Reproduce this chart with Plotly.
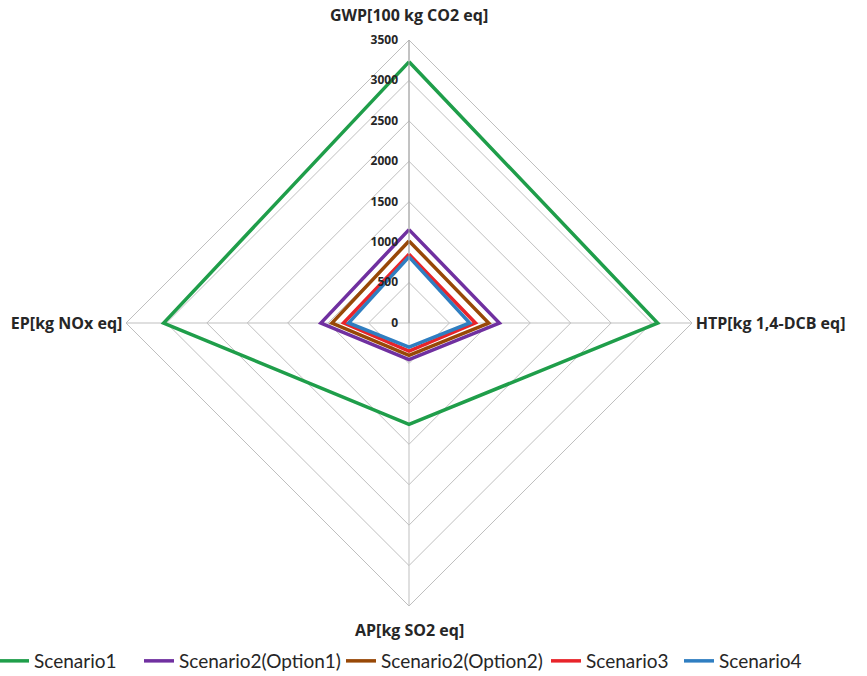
import plotly.graph_objects as go

categories = ["GWP[100 kg CO2 eq]", "HTP[kg 1,4-DCB eq]", "AP[kg SO2 eq]", "EP[kg NOx eq]"]
series_names = ["Scenario1", "Scenario2(Option1)", "Scenario2(Option2)", "Scenario3", "Scenario4"]
scenario1 = [3230, 3075, 1255, 3035]
scenario2_opt1 = [1155, 1118, 454, 1090]
scenario2_opt2 = [1015, 986, 400, 953]
scenario3 = [850, 821, 347, 809]
scenario4 = [817, 751, 297, 747]
radial_ticks = [0, 500, 1000, 1500, 2000, 2500, 3000, 3500]

colors = ["#1f9e4a", "#7030a0", "#984807", "#e8242a", "#2f7ec1"]
all_series = [scenario1, scenario2_opt1, scenario2_opt2, scenario3, scenario4]
legend_starts = [3, 148, 350, 555, 688]

W, H = 867, 676
cx, cy, R = 409, 323, 283

fig = go.Figure()
legend_layouts = {}
for i, (name, vals, col) in enumerate(zip(series_names, all_series, colors)):
    lg = "legend" if i == 0 else "legend%d" % (i + 1)
    fig.add_trace(go.Scatterpolar(
        r=vals + vals[:1],
        theta=categories + categories[:1],
        mode="lines",
        name=name,
        legend=lg,
        line=dict(color=col, width=3.5),
    ))
    legend_layouts[lg] = dict(
        orientation="h", x=(legend_starts[i] - 9) / W, xanchor="left",
        y=(H - 661) / H, yanchor="middle",
        font=dict(family="Lato, Noto Sans, sans-serif", size=19, color="#262626"),
        itemwidth=30, bgcolor="rgba(0,0,0,0)",
    )

# top and bottom category labels are drawn as annotations for exact placement
angular_text = ["", categories[1], "", categories[3]]
radial_text = [str(v) + "\u00a0\u00a0" for v in radial_ticks]
label_font = dict(family="Open Sans, Noto Sans, sans-serif", size=16, weight="bold", color="#262626")

fig.update_layout(
    width=W, height=H,
    margin=dict(l=0, r=0, t=0, b=0, autoexpand=False),
    paper_bgcolor="white",
    plot_bgcolor="white",
    font=dict(family="Open Sans, Noto Sans, sans-serif", color="#262626"),
    polar=dict(
        domain=dict(x=[(cx - R) / W, (cx + R) / W], y=[(H - cy - R) / H, (H - cy + R) / H]),
        bgcolor="white",
        gridshape="linear",
        angularaxis=dict(
            rotation=90, direction="clockwise",
            showline=True, linecolor="#bfbfbf", linewidth=1,
            gridcolor="#bfbfbf", gridwidth=1,
            tickmode="array", tickvals=categories, ticktext=angular_text,
            ticks="", tickfont=label_font,
        ),
        radialaxis=dict(
            range=[0, 3500], tickmode="array", tickvals=radial_ticks, ticktext=radial_text,
            angle=90, tickangle=90, side="counterclockwise",
            showline=True, linecolor="#a6a6a6", linewidth=1,
            gridcolor="#bfbfbf", gridwidth=1,
            ticks="", tickfont=dict(size=12, weight="bold", color="#262626"),
        ),
    ),
    annotations=[
        dict(text=categories[0], x=cx / W, y=(H - 15) / H, xref="paper", yref="paper",
             xanchor="center", yanchor="middle", showarrow=False, font=label_font),
        dict(text=categories[2], x=cx / W, y=(H - 630) / H, xref="paper", yref="paper",
             xanchor="center", yanchor="middle", showarrow=False, font=label_font),
    ],
    showlegend=True,
    **legend_layouts,
)

fig.write_html("out.html", config={"displayModeBar": False},
               post_script="document.body.style.margin='0';")
